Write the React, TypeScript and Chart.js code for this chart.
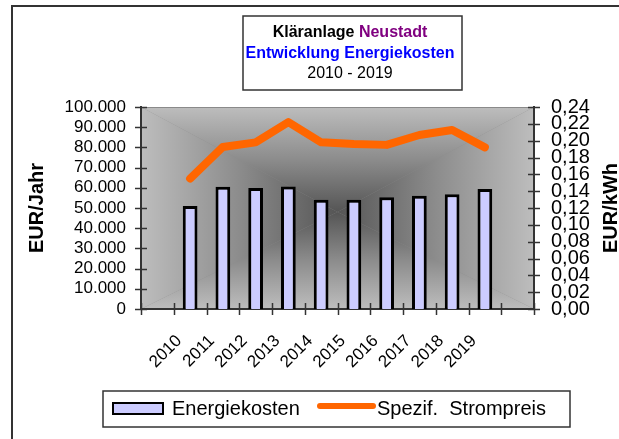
import React, { useEffect, useRef } from 'react';
import { Chart, registerables } from 'chart.js';

Chart.register(...registerables);

// ---- data ----
const categories = ['', '2010', '2011', '2012', '2013', '2014', '2015', '2016', '2017', '2018', '2019', ''];
const energyCosts = [null, 51000, 60500, 59900, 60700, 54100, 54100, 55300, 56100, 56800, 59400, null];
const specificPrice = [null, 0.155, 0.1925, 0.198, 0.222, 0.198, 0.196, 0.195, 0.2067, 0.2127, 0.192, null];
const seriesNames = ['Energiekosten', 'Spezif.  Strompreis'];
const leftAxis = { min: 0, max: 100000, step: 10000, title: 'EUR/Jahr' };
const rightAxis = { min: 0, max: 0.24, step: 0.02, title: 'EUR/kWh' };
const titleLine1 = ['Kläranlage ', 'Neustadt'];
const titleLine2 = 'Entwicklung Energiekosten';
const titleLine3 = '2010 - 2019';

const FONT = "'Liberation Sans', Arial, sans-serif";
const BAR_FILL = '#ccccff';
const LINE_COLOR = '#ff6600';
const DARK = '#333333';

const fmtThousands = (v: number) => String(Math.round(v)).replace(/\B(?=(\d{3})+(?!\d))/g, '.');
const fmtDec = (v: number) => v.toFixed(2).replace('.', ',');

const decorPlugin = {
  id: 'decor',
  beforeDraw(chart: any) {
    const ctx = chart.ctx as CanvasRenderingContext2D;
    const { left, top, right, bottom } = chart.chartArea;
    ctx.save();
    ctx.fillStyle = '#ffffff';
    ctx.fillRect(0, 0, chart.width, chart.height);
    // rectangular "from centre" gradient
    const cx = (left + right) / 2;
    const cy = (top + bottom) / 2 + 4;
    const stops: [number, string][] = [
      [0, '#555555'],
      [0.5, '#8c8c8c'],
      [1, '#bdbdbd'],
    ];
    ctx.fillStyle = '#8c8c8c';
    ctx.fillRect(left, top, right - left, bottom - top);
    const tri = (x1: number, y1: number, x2: number, y2: number, gx: number, gy: number) => {
      const g = ctx.createLinearGradient(cx, cy, gx, gy);
      stops.forEach(([o, c]) => g.addColorStop(o, c));
      ctx.beginPath();
      ctx.moveTo(cx, cy);
      ctx.lineTo(x1, y1);
      ctx.lineTo(x2, y2);
      ctx.closePath();
      ctx.fillStyle = g;
      ctx.fill();
    };
    tri(left, top, right, top, cx, top);
    tri(right, top, right, bottom, right, cy);
    tri(right, bottom, left, bottom, cx, bottom);
    tri(left, bottom, left, top, left, cy);
    ctx.strokeStyle = '#8a8a8a';
    ctx.lineWidth = 1;
    ctx.strokeRect(left + 0.5, top + 0.5, right - left - 1, bottom - top - 1);
    ctx.restore();
  },
  afterDraw(chart: any) {
    const ctx = chart.ctx as CanvasRenderingContext2D;
    const { left, top, right, bottom } = chart.chartArea;
    ctx.save();
    // tick marks crossing axes
    ctx.strokeStyle = DARK;
    ctx.lineWidth = 1.5;
    const yl = chart.scales.y;
    yl.ticks.forEach((_t: any, i: number) => {
      const p = Math.round(yl.getPixelForTick(i)) + 0.5;
      ctx.beginPath(); ctx.moveTo(left - 6, p); ctx.lineTo(left + 6, p); ctx.stroke();
    });
    const yr = chart.scales.y2;
    yr.ticks.forEach((_t: any, i: number) => {
      const p = Math.round(yr.getPixelForTick(i)) + 0.5;
      ctx.beginPath(); ctx.moveTo(right - 6, p); ctx.lineTo(right + 6, p); ctx.stroke();
    });
    const n = categories.length;
    for (let i = 0; i <= n; i++) {
      const p = Math.round(left + (i * (right - left)) / n) + 0.5;
      ctx.beginPath(); ctx.moveTo(p, bottom - 6); ctx.lineTo(p, bottom + 6); ctx.stroke();
    }

    // axis titles
    ctx.fillStyle = '#000';
    ctx.font = `bold 20px ${FONT}`;
    ctx.textAlign = 'center';
    ctx.textBaseline = 'middle';
    const midY = (top + bottom) / 2;
    ctx.save(); ctx.translate(37, midY); ctx.rotate(-Math.PI / 2); ctx.fillText(leftAxis.title, 0, 0); ctx.restore();
    ctx.save(); ctx.translate(611, midY); ctx.rotate(-Math.PI / 2); ctx.fillText(rightAxis.title, 0, 0); ctx.restore();

    // outer frame
    ctx.strokeStyle = DARK;
    ctx.lineWidth = 2;
    ctx.strokeRect(12, 6, 1000, 1000);

    // title box
    ctx.fillStyle = '#fff';
    ctx.fillRect(243, 16, 219, 74);
    ctx.strokeStyle = DARK;
    ctx.lineWidth = 1.5;
    ctx.strokeRect(243, 16, 219, 74);
    const tcx = 350;
    ctx.textBaseline = 'alphabetic';
    ctx.font = `bold 16px ${FONT}`;
    const wA = ctx.measureText(titleLine1[0]).width;
    const wB = ctx.measureText(titleLine1[1]).width;
    const sx = tcx - (wA + wB) / 2;
    ctx.textAlign = 'left';
    ctx.fillStyle = '#000';
    ctx.fillText(titleLine1[0], sx, 37);
    ctx.fillStyle = '#800080';
    ctx.fillText(titleLine1[1], sx + wA, 37);
    ctx.textAlign = 'center';
    ctx.fillStyle = '#0000ff';
    ctx.fillText(titleLine2, tcx, 57.5);
    ctx.font = `16px ${FONT}`;
    ctx.fillStyle = '#000';
    ctx.fillText(titleLine3, tcx, 78);

    // legend box
    ctx.fillStyle = '#fff';
    ctx.fillRect(103, 391, 467, 36);
    ctx.strokeStyle = DARK;
    ctx.lineWidth = 1.5;
    ctx.strokeRect(103, 391, 467, 36);
    const ds = chart.data.datasets;
    ctx.fillStyle = BAR_FILL;
    ctx.fillRect(113, 403, 50, 11);
    ctx.strokeStyle = '#000';
    ctx.lineWidth = 2;
    ctx.strokeRect(113, 403, 50, 11);
    ctx.font = `20px ${FONT}`;
    ctx.textAlign = 'left';
    ctx.fillStyle = '#000';
    ctx.fillText(ds[0].label, 172, 415);
    ctx.strokeStyle = LINE_COLOR;
    ctx.lineWidth = 6;
    ctx.lineCap = 'round';
    ctx.beginPath(); ctx.moveTo(320, 406); ctx.lineTo(373, 406); ctx.stroke();
    ctx.fillText(ds[1].label, 377, 415);
    ctx.restore();
  },
};

export default function App() {
  const ref = useRef<HTMLCanvasElement | null>(null);
  useEffect(() => {
    document.body.style.margin = '0';
    document.body.style.overflow = 'hidden';
    if (!ref.current) return;
    Chart.defaults.font.family = FONT;
    const chart = new Chart(ref.current, {
      type: 'bar',
      data: {
        labels: categories,
        datasets: [
          {
            type: 'bar',
            label: seriesNames[0],
            data: energyCosts as any,
            yAxisID: 'y',
            backgroundColor: BAR_FILL,
            borderColor: '#000',
            borderWidth: 3,
            barPercentage: 0.45,
            categoryPercentage: 1,
            order: 1,
          },
          {
            type: 'line',
            label: seriesNames[1],
            data: specificPrice as any,
            yAxisID: 'y2',
            borderColor: LINE_COLOR,
            backgroundColor: LINE_COLOR,
            borderWidth: 8,
            borderCapStyle: 'round',
            borderJoinStyle: 'round',
            pointRadius: 0,
            tension: 0,
            order: 0,
          } as any,
        ],
      },
      options: {
        animation: false,
        responsive: false,
        devicePixelRatio: 1,
        layout: { padding: { top: 107, left: 0, right: 0, bottom: 0 } },
        plugins: { legend: { display: false }, title: { display: false }, tooltip: { enabled: false } },
        scales: {
          x: {
            offset: true,
            grid: { display: false, drawTicks: false, drawOnChartArea: false },
            border: { display: true, color: DARK, width: 2 },
            ticks: {
              autoSkip: false,
              minRotation: 45,
              maxRotation: 45,
              padding: 22,
              labelOffset: -11,
              color: '#000',
              font: { size: 17, family: FONT },
            },
            afterFit: (s: any) => { s.height = 130; },
          },
          y: {
            position: 'left',
            min: leftAxis.min,
            max: leftAxis.max,
            grid: { display: false, drawTicks: false, drawOnChartArea: false },
            border: { display: true, color: DARK, width: 2 },
            ticks: {
              stepSize: leftAxis.step,
              autoSkip: false,
              padding: 15,
              color: '#000',
              font: { size: 17, family: FONT },
              callback: (v: any) => fmtThousands(Number(v)),
            },
            afterFit: (s: any) => { s.width = 141; },
          },
          y2: {
            position: 'right',
            min: rightAxis.min,
            max: rightAxis.max,
            grid: { display: false, drawTicks: false, drawOnChartArea: false },
            border: { display: true, color: DARK, width: 2 },
            ticks: {
              stepSize: rightAxis.step,
              autoSkip: false,
              padding: 17,
              color: '#000',
              font: { size: 20, family: FONT },
              callback: (v: any) => fmtDec(Number(v)),
            },
            afterFit: (s: any) => { s.width = 85; },
          },
        },
      },
      plugins: [decorPlugin],
    });
    return () => chart.destroy();
  }, []);
  return <canvas ref={ref} width={619} height={439} style={{ display: 'block' }} />;
}
